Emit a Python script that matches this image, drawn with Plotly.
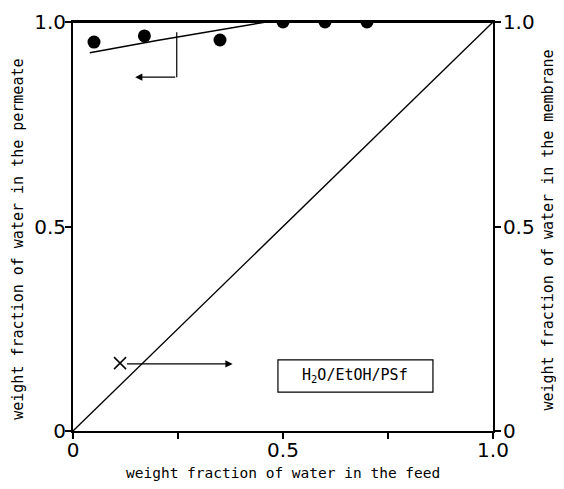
import plotly.graph_objects as go

# data
feed_pts = [0.05, 0.17, 0.35, 0.50, 0.60, 0.70]
perm_pts = [0.951, 0.966, 0.956, 1.0, 1.0, 1.0]
curve_x = [0.04, 0.20, 0.46, 1.0]
curve_y = [0.925, 0.955, 1.0, 1.0]
diag_x = [0.0, 1.0]
diag_y = [0.0, 1.0]
x_ticks = [0, 0.25, 0.5, 0.75, 1.0]
x_ticklabels = ["0", "", "0.5", "", "1.0"]
y_ticks = [0, 0.5, 1.0]
y_ticklabels = ["0", "0.5", "1.0"]

FONT = "DejaVu Sans"
MONO = "DejaVu Sans Mono"
fig = go.Figure()
fig.add_trace(go.Scatter(x=curve_x, y=curve_y, mode="lines",
                         line=dict(color="black", width=1.5), showlegend=False))
fig.add_trace(go.Scatter(x=feed_pts, y=perm_pts, mode="markers",
                         marker=dict(color="black", size=13), showlegend=False,
                         cliponaxis=True))
fig.add_trace(go.Scatter(x=diag_x, y=diag_y, mode="lines", yaxis="y2",
                         line=dict(color="black", width=1.3), showlegend=False))
fig.add_trace(go.Scatter(x=[0.112], y=[0.166], mode="markers", yaxis="y2",
                         marker=dict(symbol="x-thin", size=12, color="black",
                                     line=dict(color="black", width=1.5)),
                         showlegend=False))

axis_common = dict(range=[0, 1], showgrid=False, zeroline=False, showline=True,
                   linecolor="black", linewidth=1.8, ticks="outside", ticklen=6,
                   tickwidth=1.5, tickcolor="black", automargin=False,
                   tickfont=dict(family=FONT, size=20, color="black"))

fig.update_layout(
    width=564, height=489,
    margin=dict(l=65, r=79, t=14, b=66),
    plot_bgcolor="white", paper_bgcolor="white",
    xaxis=dict(axis_common, tickvals=x_ticks, ticktext=x_ticklabels, mirror=True,
               ticklabelstandoff=-6),
    yaxis=dict(axis_common, tickvals=y_ticks, ticktext=y_ticklabels,
               ticklabelstandoff=-5),
    yaxis2=dict(axis_common, tickvals=y_ticks, ticktext=y_ticklabels, overlaying="y",
                side="right", ticklabelstandoff=-2),
)

# hide the upper half of markers lying on the top frame (clipped in the original)
fig.add_shape(type="rect", xref="paper", yref="paper", x0=0.3, x1=0.95,
              y0=1.005, y1=1.05, fillcolor="white", line=dict(width=0), layer="above")
fig.add_shape(type="line", xref="paper", yref="paper", x0=0, x1=1, y0=1.0, y1=1.0,
              line=dict(color="black", width=2), layer="above")

# axis titles
title_font = dict(family=MONO, size=14.5, color="black")
fig.add_annotation(text="weight fraction of water in the feed", xref="paper", yref="paper",
                   x=0.5, y=-0.103, showarrow=False, yanchor="middle",
                   font=title_font)
fig.add_annotation(text="weight fraction of water in the permeate", xref="paper",
                   yref="paper", x=-0.131, y=0.47, xanchor="center", showarrow=False,
                   textangle=-90, font=dict(title_font, size=15))
fig.add_annotation(text="weight fraction of water in the membrane", xref="paper",
                   yref="paper", x=1.131, y=0.49, xanchor="center", showarrow=False,
                   textangle=-90, font=dict(title_font, size=15))

# arrow from curve pointing left (to permeate axis)
fig.add_shape(type="line", x0=0.247, y0=0.975, x1=0.247, y1=0.865,
              line=dict(color="black", width=1.2))
fig.add_annotation(x=0.148, y=0.865, ax=0.247, ay=0.865, xref="x", yref="y",
                   axref="x", ayref="y", showarrow=True, arrowhead=2,
                   arrowsize=1.2, arrowwidth=1.2, arrowcolor="black", text="")
# arrow from X pointing right (to membrane axis)
fig.add_annotation(x=0.38, y=0.164, ax=0.125, ay=0.164, xref="x", yref="y",
                   axref="x", ayref="y", showarrow=True, arrowhead=2,
                   arrowsize=1.2, arrowwidth=1.2, arrowcolor="black", text="")
# label box
fig.add_shape(type="rect", x0=0.488, x1=0.857, y0=0.095, y1=0.174,
              line=dict(color="black", width=1.2))
fig.add_annotation(x=0.672, y=0.135, xref="x", yref="y", showarrow=False,
                   text="H<sub>2</sub>O/EtOH/PSf",
                   font=dict(family=MONO, size=15, color="black"))

fig.write_html("out.html")
